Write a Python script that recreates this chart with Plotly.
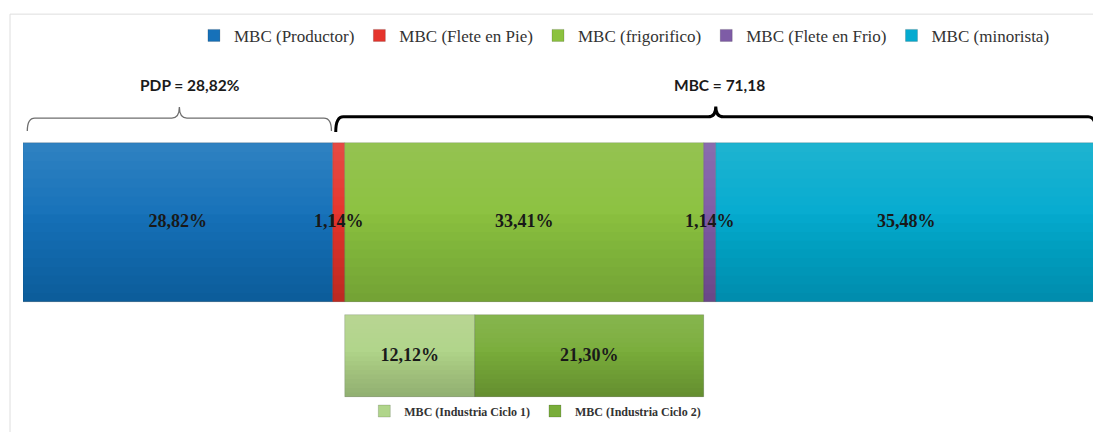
import numpy as np
import plotly.graph_objects as go

# Datos
segmentos = ['MBC (Productor)', 'MBC (Flete en Pie)', 'MBC (frigorifico)', 'MBC (Flete en Frio)', 'MBC (minorista)']
valores = [28.82, 1.14, 33.41, 1.14, 35.48]
colores = ['#1671B9', '#E5342C', '#8CC23F', '#7E5CA6', '#05ABD0']

sub_segmentos = ['MBC (Industria Ciclo 1)', 'MBC (Industria Ciclo 2)']
sub_valores = [12.12, 21.30]
sub_colores = ['#B0D58A', '#79AD3A']

pdp_label = 'PDP = 28,82%'
mbc_label = 'MBC = 71,18'


def pct(v):
    return f'{v:.2f}'.replace('.', ',') + '%'


def llave(x0, x1, yb, yl, yt, r):
    # trazado de una llave horizontal con la punta hacia arriba
    xm = (x0 + x1) / 2
    return (f'M {x0},{yb} Q {x0},{yl} {x0 + r},{yl} L {xm - r},{yl} '
            f'Q {xm},{yl} {xm},{yt} Q {xm},{yl} {xm + r},{yl} '
            f'L {x1 - r},{yl} Q {x1},{yl} {x1},{yb}')


bases = np.concatenate([[0], np.cumsum(valores)[:-1]])
sub_inicio = valores[0] + valores[1]  # el desglose empieza donde empieza el frigorifico
sub_bases = sub_inicio + np.concatenate([[0], np.cumsum(sub_valores)[:-1]])

Y_MAIN = 0
Y_SUB = -0.84
W_SUB = 0.516

fig = go.Figure()

# barra principal
for nombre, v, b, c in zip(segmentos, valores, bases, colores):
    fig.add_trace(go.Bar(
        x=[v], y=[Y_MAIN], base=[b], orientation='h', width=1,
        name=nombre, marker=dict(color=c, line=dict(color='rgba(0,0,0,0.25)', width=0.6)),
        legend='legend', hoverinfo='skip',
    ))

# barra del desglose del frigorifico
for nombre, v, b, c in zip(sub_segmentos, sub_valores, sub_bases, sub_colores):
    fig.add_trace(go.Bar(
        x=[v], y=[Y_SUB], base=[b], orientation='h', width=W_SUB,
        name=nombre, marker=dict(color=c, line=dict(color='rgba(0,0,0,0.25)', width=0.6)),
        legend='legend2', hoverinfo='skip',
    ))

total = sum(valores)

# degradado vertical suave (capas acumuladas: claro arriba, oscuro abajo)
n_claro, n_oscuro = 8, 10
for x_a, x_b, yc, w in [(0, total, Y_MAIN, 1), (sub_inicio, sub_inicio + sum(sub_valores), Y_SUB, W_SUB)]:
    arriba, abajo = yc + w / 2, yc - w / 2
    for j in range(1, n_claro + 1):
        fig.add_shape(type='rect', xref='x', yref='y', x0=x_a, x1=x_b,
                      y0=arriba - j * 0.45 * w / n_claro, y1=arriba,
                      fillcolor='rgba(255,255,255,0.014)', line=dict(width=0), layer='above')
    for j in range(1, n_oscuro + 1):
        fig.add_shape(type='rect', xref='x', yref='y', x0=x_a, x1=x_b,
                      y0=abajo, y1=abajo + j * 0.55 * w / n_oscuro,
                      fillcolor='rgba(0,0,0,0.017)', line=dict(width=0), layer='above')

# etiquetas de valores
fig.add_trace(go.Scatter(
    x=list(bases + np.array(valores) / 2) + list(sub_bases + np.array(sub_valores) / 2),
    y=[Y_MAIN] * len(valores) + [Y_SUB] * len(sub_valores),
    mode='text',
    text=[pct(v) for v in valores] + [pct(v) for v in sub_valores],
    textfont=dict(family='Liberation Serif', size=18, color='#1a1a1a', weight='bold'),
    showlegend=False, hoverinfo='skip', cliponaxis=False,
))

x0_izq, x1_izq = 0.4, valores[0] - 0.1
x0_der, x1_der = valores[0] + 0.3, total - 0.1

fig.add_shape(type='path', xref='x', yref='y',
              path=llave(x0_izq, x1_izq, 0.575, 0.657, 0.726, 0.7),
              line=dict(color='#6e6e6e', width=1.3))
fig.add_shape(type='path', xref='x', yref='y',
              path=llave(x0_der, x1_der, 0.57, 0.665, 0.73, 0.7),
              line=dict(color='#000000', width=3))

fig.add_annotation(x=(x0_izq + x1_izq) / 2 + 1, y=0.865, text=pdp_label, showarrow=False,
                   font=dict(family='Lato', size=15.5, color='#1a1a1a', weight='bold'))
fig.add_annotation(x=(x0_der + x1_der) / 2 + 0.3, y=0.865, text=mbc_label, showarrow=False,
                   font=dict(family='Lato', size=15.5, color='#1a1a1a', weight='bold'))

# marco gris claro (izquierda y arriba)
fig.add_shape(type='line', xref='paper', yref='paper', x0=-0.0121, x1=-0.0121, y0=1.131, y1=-0.07,
              line=dict(color='#dedede', width=1))
fig.add_shape(type='line', xref='paper', yref='paper', x0=-0.0121, x1=1.01, y0=1.131, y1=1.131,
              line=dict(color='#dedede', width=1))

fig.update_layout(
    width=1093, height=424,
    margin=dict(l=15, r=4, t=52, b=22),
    plot_bgcolor='white', paper_bgcolor='white',
    barmode='overlay', bargap=0,
    showlegend=True,
    legend=dict(orientation='h', x=0.560, xanchor='center', y=1.069, yanchor='middle',
                font=dict(family='Liberation Serif', size=17, color='#333333'),
                itemwidth=30, bgcolor='rgba(0,0,0,0)', itemclick=False, itemdoubleclick=False),
    legend2=dict(orientation='h', x=0.477, xanchor='center', y=-0.003, yanchor='middle',
                 font=dict(family='Liberation Serif', size=12, color='#333333', weight='bold'),
                 itemwidth=30, bgcolor='rgba(0,0,0,0)', itemclick=False, itemdoubleclick=False),
    dragmode=False,
)
fig.update_xaxes(range=[0, 100], visible=False, fixedrange=True)
fig.update_yaxes(range=[-1.179, 1.022], visible=False, fixedrange=True)

fig.write_html('out.html')
